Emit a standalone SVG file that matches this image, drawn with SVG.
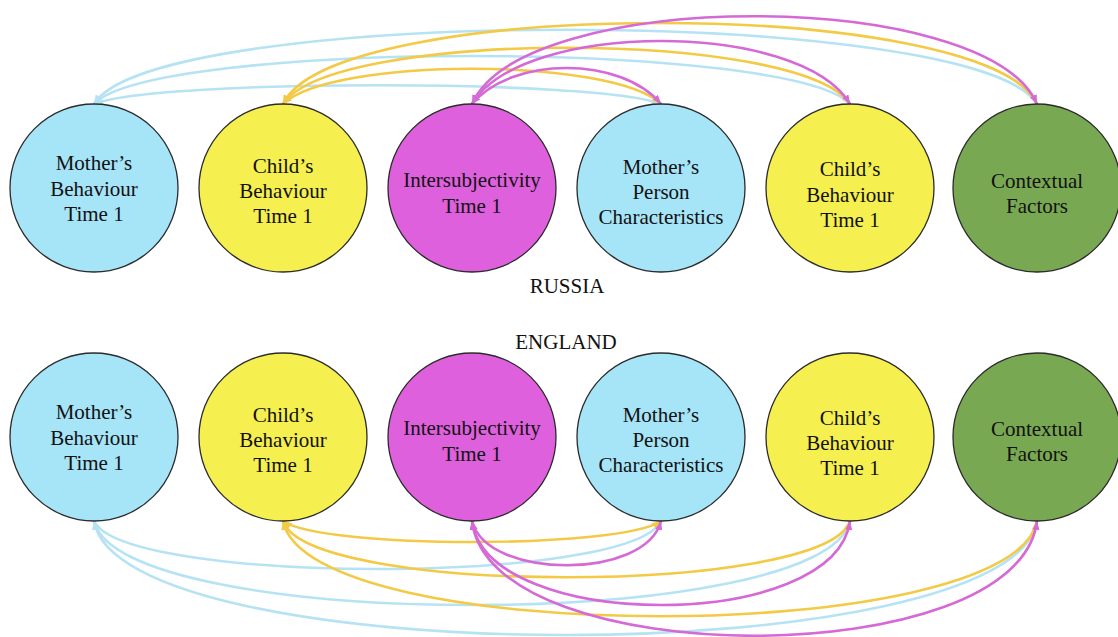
<svg xmlns="http://www.w3.org/2000/svg" width="1118" height="637" viewBox="0 0 1118 637">
  <style>
    .node { stroke: #2b2b2b; stroke-width: 1.3; }
    .blue { fill: #A6E4F8; }
    .yellow { fill: #F5EF4F; }
    .magenta { fill: #DF60DD; }
    .green { fill: #79A852; }
    .lbl { font-family: "Liberation Serif", "Times New Roman", serif; font-size: 21px; fill: #111; text-anchor: middle; }
    .arc { fill: none; stroke-width: 2.6; }
    .arc-b { stroke: #B6E3F3; marker-start: url(#ah-b); marker-end: url(#ah-b); }
    .arc-y { stroke: #F3CA45; marker-start: url(#ah-y); marker-end: url(#ah-y); }
    .arc-m { stroke: #D56AD6; marker-start: url(#ah-m); marker-end: url(#ah-m); }
  </style>
  <defs>
    <marker id="ah-b" markerUnits="userSpaceOnUse" markerWidth="9" markerHeight="7" refX="9" refY="3.5" orient="auto-start-reverse">
      <path d="M0,0 L9,3.5 L0,7 z" fill="#B6E3F3"/>
    </marker>
    <marker id="ah-y" markerUnits="userSpaceOnUse" markerWidth="9" markerHeight="7" refX="9" refY="3.5" orient="auto-start-reverse">
      <path d="M0,0 L9,3.5 L0,7 z" fill="#F3CA45"/>
    </marker>
    <marker id="ah-m" markerUnits="userSpaceOnUse" markerWidth="9" markerHeight="7" refX="9" refY="3.5" orient="auto-start-reverse">
      <path d="M0,0 L9,3.5 L0,7 z" fill="#D56AD6"/>
    </marker>
  </defs>

  <rect width="1118" height="637" fill="#ffffff"/>

  <!-- connectors: top row (Russia) arcs above, bottom row (England) arcs below -->
  <g id="connectors">
    <g id="russia-links">
      <path class="arc arc-b" d="M94,104 C154,79 601,79 661,104"/>
      <path class="arc arc-b" d="M94,104 C154,40 790,40 850,104"/>
      <path class="arc arc-b" d="M94,104 C154,5 977,5 1037,104"/>
      <path class="arc arc-y" d="M283,104 C333,57 611,57 661,104"/>
      <path class="arc arc-y" d="M283,104 C333,29 800,29 850,104"/>
      <path class="arc arc-y" d="M283,104 C333,-4 987,-4 1037,104"/>
      <path class="arc arc-m" d="M472,104 C512,56 621,56 661,104"/>
      <path class="arc arc-m" d="M472,104 C522,20 800,20 850,104"/>
      <path class="arc arc-m" d="M472,104 C523,-13 986,-13 1037,104"/>
    </g>
    <g id="england-links">
      <path class="arc arc-b" d="M94,521 C124,585 631,585 661,521"/>
      <path class="arc arc-b" d="M94,521 C119,633 825,633 850,521"/>
      <path class="arc arc-b" d="M94,521 C119,673 1012,673 1037,521"/>
      <path class="arc arc-y" d="M283,521 C323,549 621,549 661,521"/>
      <path class="arc arc-y" d="M283,521 C308,596 825,596 850,521"/>
      <path class="arc arc-y" d="M283,521 C308,648 1012,648 1037,521"/>
      <path class="arc arc-m" d="M472,521 C487,580 646,580 661,521"/>
      <path class="arc arc-m" d="M472,521 C487,633 835,633 850,521"/>
      <path class="arc arc-m" d="M472,521 C490,674 1019,674 1037,521"/>
    </g>
  </g>

  <!-- Russia row -->
  <g id="ru-mother-behaviour">
    <circle class="node blue" cx="94" cy="188" r="84"/>
    <text class="lbl" x="94" y="170">Mother’s</text>
    <text class="lbl" x="94" y="195.5">Behaviour</text>
    <text class="lbl" x="94" y="221">Time 1</text>
  </g>
  <g id="ru-child-behaviour">
    <circle class="node yellow" cx="283" cy="188" r="84"/>
    <text class="lbl" x="283" y="172.5">Child’s</text>
    <text class="lbl" x="283" y="198">Behaviour</text>
    <text class="lbl" x="283" y="223">Time 1</text>
  </g>
  <g id="ru-intersubjectivity">
    <circle class="node magenta" cx="472" cy="188" r="84"/>
    <text class="lbl" x="472" y="187">Intersubjectivity</text>
    <text class="lbl" x="472" y="212.5">Time 1</text>
  </g>
  <g id="ru-mother-person">
    <circle class="node blue" cx="661" cy="188" r="84"/>
    <text class="lbl" x="661" y="173.5">Mother’s</text>
    <text class="lbl" x="661" y="199">Person</text>
    <text class="lbl" x="661" y="224">Characteristics</text>
  </g>
  <g id="ru-child-behaviour-2">
    <circle class="node yellow" cx="850" cy="188" r="84"/>
    <text class="lbl" x="850" y="176">Child’s</text>
    <text class="lbl" x="850" y="201.5">Behaviour</text>
    <text class="lbl" x="850" y="227">Time 1</text>
  </g>
  <g id="ru-contextual">
    <circle class="node green" cx="1037" cy="188" r="84"/>
    <text class="lbl" x="1037" y="187.5">Contextual</text>
    <text class="lbl" x="1037" y="213">Factors</text>
  </g>

  <text id="label-russia" class="lbl" x="567" y="292.5">RUSSIA</text>
  <text id="label-england" class="lbl" x="566" y="348.5">ENGLAND</text>

  <!-- England row -->
  <g id="en-mother-behaviour">
    <circle class="node blue" cx="94" cy="437" r="84"/>
    <text class="lbl" x="94" y="419">Mother’s</text>
    <text class="lbl" x="94" y="444.5">Behaviour</text>
    <text class="lbl" x="94" y="469.5">Time 1</text>
  </g>
  <g id="en-child-behaviour">
    <circle class="node yellow" cx="283" cy="437" r="84"/>
    <text class="lbl" x="283" y="421.5">Child’s</text>
    <text class="lbl" x="283" y="447">Behaviour</text>
    <text class="lbl" x="283" y="472">Time 1</text>
  </g>
  <g id="en-intersubjectivity">
    <circle class="node magenta" cx="472" cy="437" r="84"/>
    <text class="lbl" x="472" y="435">Intersubjectivity</text>
    <text class="lbl" x="472" y="460.5">Time 1</text>
  </g>
  <g id="en-mother-person">
    <circle class="node blue" cx="661" cy="437" r="84"/>
    <text class="lbl" x="661" y="421.5">Mother’s</text>
    <text class="lbl" x="661" y="447">Person</text>
    <text class="lbl" x="661" y="472">Characteristics</text>
  </g>
  <g id="en-child-behaviour-2">
    <circle class="node yellow" cx="850" cy="437" r="84"/>
    <text class="lbl" x="850" y="424.5">Child’s</text>
    <text class="lbl" x="850" y="450">Behaviour</text>
    <text class="lbl" x="850" y="475">Time 1</text>
  </g>
  <g id="en-contextual">
    <circle class="node green" cx="1037" cy="437" r="84"/>
    <text class="lbl" x="1037" y="435.5">Contextual</text>
    <text class="lbl" x="1037" y="461">Factors</text>
  </g>
</svg>
